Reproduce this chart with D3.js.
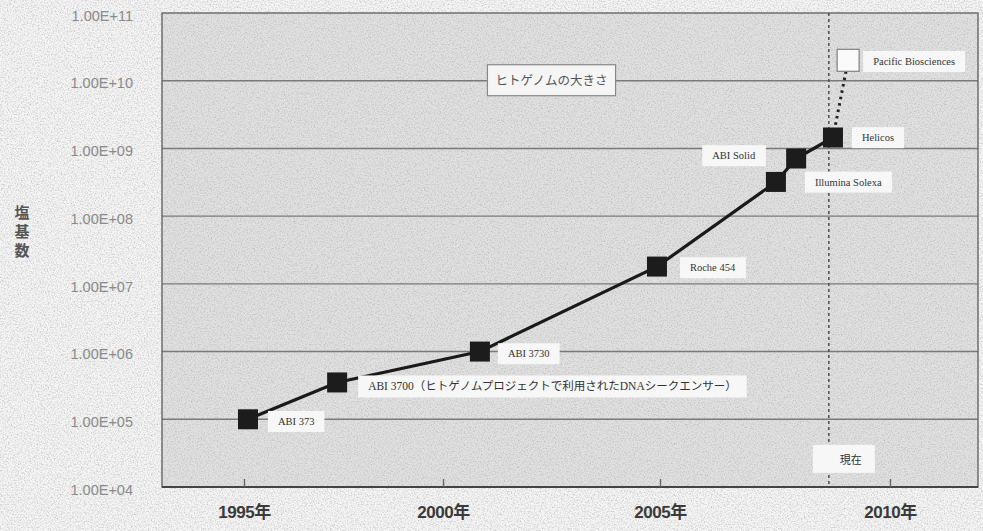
<!DOCTYPE html>
<html lang="ja">
<head>
<meta charset="utf-8">
<script src="https://cdn.jsdelivr.net/npm/d3@7"></script>
<style>
  html, body { margin: 0; padding: 0; background: #f5f5f5; }
  svg { display: block; }
</style>
</head>
<body>
<div id="graph"></div>
<script>
// データ
const names = ["ABI 373", "ABI 3700（ヒトゲノムプロジェクトで利用されたDNAシークエンサー）", "ABI 3730",
  "Roche 454", "Illumina Solexa", "ABI Solid", "Helicos"];
const years = [1995.1, 1997.34, 2000.85, 2004.93, 2007.52, 2007.96, 2008.76];
const bases = [1.0e5, 3.5e5, 1.0e6, 1.8e7, 3.2e8, 7.1e8, 1.45e9];

const futureName = "Pacific Biosciences";
const futureYear = 2009.09;
const futureBases = 2.0e10;

const nowYear = 2008.67;
const nowLabel = "現在";
const genomeLabel = "ヒトゲノムの大きさ";
const genomeYear = 2002.5;
const genomeBases = 1e10;

const xTicks = [1995, 2000, 2005, 2010];
const yTicks = [1e4, 1e5, 1e6, 1e7, 1e8, 1e9, 1e10, 1e11];

//---------------------------------------------------------------------------------------

// キャンバス
const width = 983;
const height = 531;
const margin = {top: 13, right: 5, bottom: 44, left: 162};

const svg = d3.select("#graph")
  .append("svg")
  .attr("width", width)
  .attr("height", height);

// スキャン風のざらつき
const defs = svg.append("defs");
const noise = defs.append("filter").attr("id", "noise")
  .attr("x", 0).attr("y", 0).attr("width", "100%").attr("height", "100%");
noise.append("feTurbulence")
  .attr("type", "fractalNoise")
  .attr("baseFrequency", 0.7)
  .attr("numOctaves", 3)
  .attr("seed", 7);
noise.append("feColorMatrix")
  .attr("type", "matrix")
  .attr("values", "0 0 0 0 0.4  0 0 0 0 0.4  0 0 0 0 0.4  1.4 0 0 0 -0.6");

//---------------------------------------------------------------------------------------

// スケール
const x = d3.scaleLinear()
  .domain(xTicks)
  .range([244, 443, 660, 890]);

const y = d3.scaleLog()
  .domain([1e4, 1e11])
  .range([height - margin.bottom, margin.top]);

const left = margin.left;
const right = width - margin.right;

// 背景
svg.append("rect")
  .attr("x", left).attr("y", margin.top)
  .attr("width", right - left)
  .attr("height", y(1e4) - margin.top)
  .attr("fill", "#e1e1e1");

svg.append("rect")
  .attr("width", width).attr("height", height)
  .attr("filter", "url(#noise)");

// グリッド
svg.append("g")
  .selectAll("line")
  .data(yTicks.slice(1, -1))
  .join("line")
  .attr("x1", left).attr("x2", right)
  .attr("y1", d => y(d)).attr("y2", d => y(d))
  .attr("stroke", "#7a7a7a")
  .attr("stroke-width", 1.4);

// 枠
svg.append("rect")
  .attr("x", left).attr("y", margin.top)
  .attr("width", right - left)
  .attr("height", y(1e4) - margin.top)
  .attr("fill", "none")
  .attr("stroke", "#666")
  .attr("stroke-width", 1.4);

//---------------------------------------------------------------------------------------

// 軸
const xAxis = g => g
  .attr("transform", `translate(0, ${y(1e4)})`)
  .call(d3.axisBottom(x)
    .tickValues(xTicks)
    .tickFormat(d => d + "年")
    .tickSizeInner(-8)
    .tickSizeOuter(0)
    .tickPadding(19))
  .call(g => g.select(".domain").attr("d", `M${left},0H${right}`).attr("stroke", "#444").attr("stroke-width", 2.2))
  .call(g => g.selectAll(".tick line").attr("stroke", "#666").attr("stroke-width", 1.4))
  .call(g => g.selectAll("text")
    .attr("fill", "#3a3a3a")
    .style("font-family", "'Liberation Sans', 'Noto Sans CJK JP', sans-serif")
    .style("font-size", "17px")
    .style("font-weight", "bold")
    .style("letter-spacing", "-0.5px"));

const yAxis = g => g
  .attr("transform", `translate(${left}, 0)`)
  .call(d3.axisLeft(y)
    .tickValues(yTicks)
    .tickFormat(d => "1.00E+" + String(Math.round(Math.log10(d))).padStart(2, "0"))
    .tickSize(0)
    .tickPadding(29))
  .call(g => g.select(".domain").remove())
  .call(g => g.selectAll("text")
    .attr("fill", "#8a8a8a")
    .attr("dy", "0.5em")
    .style("font-family", "'Liberation Sans', sans-serif")
    .style("font-size", "14.5px"));

svg.append("g").call(xAxis);
svg.append("g").call(yAxis);

// 縦軸タイトル
svg.append("g")
  .selectAll("text")
  .data("塩基数".split(""))
  .join("text")
  .attr("x", 22)
  .attr("y", (d, i) => 213 + i * 19)
  .attr("dy", "0.35em")
  .attr("text-anchor", "middle")
  .attr("fill", "#555")
  .style("font-family", "'Noto Sans CJK JP', sans-serif")
  .style("font-size", "15px")
  .style("font-weight", "bold")
  .text(d => d);

//---------------------------------------------------------------------------------------

// 「現在」の線
svg.append("line")
  .attr("x1", x(nowYear)).attr("x2", x(nowYear))
  .attr("y1", margin.top).attr("y2", y(1e4))
  .attr("stroke", "#555")
  .attr("stroke-width", 1.6)
  .attr("stroke-dasharray", "3,3");

// ヒトゲノムの大きさ
const genomeG = svg.append("g");
const genomeText = genomeG.append("text")
  .attr("x", x(genomeYear))
  .attr("y", y(genomeBases))
  .attr("text-anchor", "middle")
  .attr("dy", "0.35em")
  .attr("fill", "#555")
  .style("font-family", "'Noto Sans CJK JP', sans-serif")
  .style("font-size", "12.5px")
  .text(genomeLabel);
const gb = genomeText.node().getBBox();
genomeG.insert("rect", "text")
  .attr("x", gb.x - 8).attr("y", y(genomeBases) - 16)
  .attr("width", gb.width + 16).attr("height", 31)
  .attr("fill", "#f5f5f5")
  .attr("stroke", "#888")
  .attr("stroke-width", 1.2);

//---------------------------------------------------------------------------------------

// 折れ線
const points = years.map((d, i) => ({year: d, value: bases[i], name: names[i]}));

const line = d3.line()
  .x(d => x(d.year))
  .y(d => y(d.value));

svg.append("path")
  .datum(points)
  .attr("d", line)
  .attr("fill", "none")
  .attr("stroke", "#1a1a1a")
  .attr("stroke-width", 3.2);

// 将来（点線）
const last = points[points.length - 1];
svg.append("line")
  .attr("x1", x(last.year)).attr("y1", y(last.value))
  .attr("x2", x(futureYear)).attr("y2", y(futureBases))
  .attr("stroke", "#222")
  .attr("stroke-width", 3)
  .attr("stroke-dasharray", "2.5,4");

// マーカー
const size = 20;
svg.append("g")
  .selectAll("rect")
  .data(points)
  .join("rect")
  .attr("x", d => x(d.year) - size / 2)
  .attr("y", d => y(d.value) - size / 2)
  .attr("width", size)
  .attr("height", size)
  .attr("fill", "#1c1c1c");

svg.append("rect")
  .attr("x", x(futureYear) - 11)
  .attr("y", y(futureBases) - 11)
  .attr("width", 22)
  .attr("height", 22)
  .attr("fill", "#fafafa")
  .attr("stroke", "#888")
  .attr("stroke-width", 1.3);

//---------------------------------------------------------------------------------------

// ラベル（白い背景つき）
const labelDx = [30, 31, 28, 33, 39, -41, 29];
const labelDy = [2, 4, 2, 1, 0, -3, 0];

const labels = points.map((d, i) => ({
  name: d.name, x: x(d.year) + labelDx[i], y: y(d.value) + labelDy[i], anchor: labelDx[i] < 0 ? "end" : "start"
}));
labels.push({name: futureName, x: x(futureYear) + 25, y: y(futureBases) + 1, anchor: "start"});

const labelG = svg.append("g")
  .selectAll("g")
  .data(labels)
  .join("g");

labelG.append("text")
  .attr("x", d => d.x)
  .attr("y", d => d.y)
  .attr("dy", "0.35em")
  .attr("text-anchor", d => d.anchor)
  .attr("fill", "#333")
  .style("font-family", "'Liberation Serif', 'Noto Sans CJK JP', serif")
  .style("font-size", d => d.name.length > 20 ? "11.5px" : "10.5px")
  .text(d => d.name);

labelG.each(function() {
  const g = d3.select(this);
  const b = g.select("text").node().getBBox();
  g.insert("rect", "text")
    .attr("x", b.x - 10).attr("y", b.y - 5)
    .attr("width", b.width + 20).attr("height", b.height + 10)
    .attr("fill", "#f7f7f7");
});

// 「現在」ラベル
const nowG = svg.append("g");
const nowText = nowG.append("text")
  .attr("x", x(nowYear) + 22)
  .attr("y", y(1e4) - 27)
  .attr("dy", "0.35em")
  .attr("text-anchor", "middle")
  .attr("fill", "#333")
  .style("font-family", "'Noto Sans CJK JP', sans-serif")
  .style("font-size", "11px")
  .text(nowLabel);
const nb = nowText.node().getBBox();
nowG.insert("rect", "text")
  .attr("x", x(nowYear) - 16).attr("y", nb.y - 6)
  .attr("width", nb.width + 40).attr("height", nb.height + 12)
  .attr("fill", "#f7f7f7");
</script>
</body>
</html>
